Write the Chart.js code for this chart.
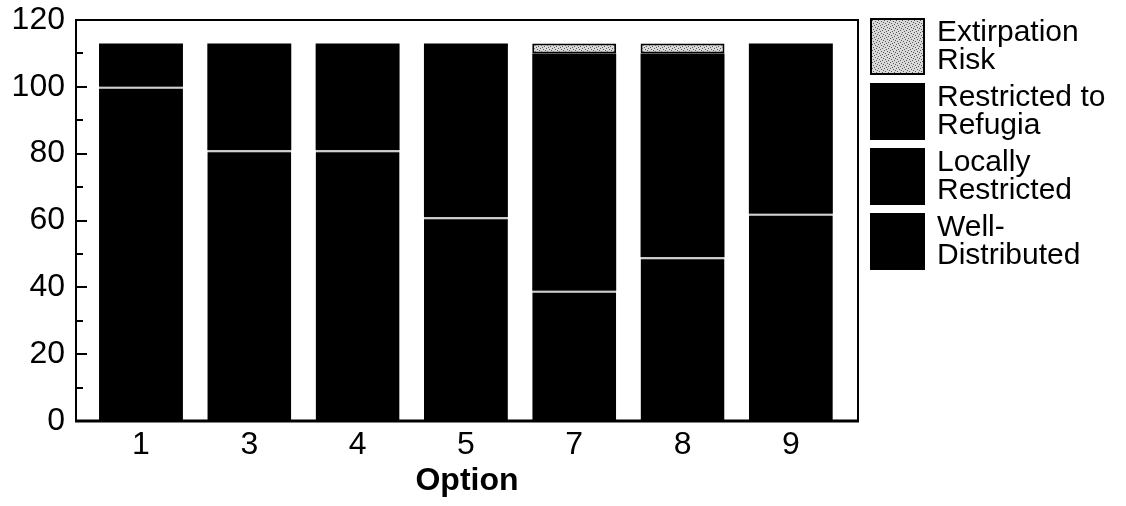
<!DOCTYPE html>
<html>
<head>
<meta charset="utf-8">
<script src="https://cdn.jsdelivr.net/npm/chart.js@4/dist/chart.umd.min.js"></script>
<style>
  html, body { margin: 0; padding: 0; background: #fff; }
  #wrap { position: relative; width: 1126px; height: 506px; }
  #chart { position: absolute; left: 0; top: 0; }
  #legend { position: absolute; left: 870px; top: 18px; width: 256px;
            font-family: 'Liberation Sans', Arial, sans-serif; font-size: 30px; color: #000; }
  .item { display: flex; align-items: flex-start; height: 65px; }
  .sw { width: 55px; height: 57px; background: #000; box-sizing: border-box; flex: none; }
  .tx { margin-left: 12px; width: 189px; line-height: 28px; margin-top: -1px; }
</style>
</head>
<body>
<div id="wrap">
  <canvas id="chart" width="1126" height="506"></canvas>
  <div id="legend"></div>
</div>
<script>
// ---- data ----
const categories = ['1', '3', '4', '5', '7', '8', '9'];
const wellDistributed     = [100, 81, 81, 61, 39, 49, 62];
const locallyRestricted   = [13, 32, 32, 52, 71, 61, 51];
const restrictedToRefugia = [0, 0, 0, 0, 0, 0, 0];
const extirpationRisk     = [0, 0, 0, 0, 3, 3, 0];
const yTickValues = [0, 20, 40, 60, 80, 100, 120];
const seriesLabels = ['Well-Distributed', 'Locally Restricted', 'Restricted to Refugia', 'Extirpation Risk'];

// stipple pattern for Extirpation Risk
const pc = document.createElement('canvas');
pc.width = 6; pc.height = 6;
const pctx = pc.getContext('2d');
pctx.fillStyle = '#d9d9d9'; pctx.fillRect(0, 0, 6, 6);
pctx.fillStyle = '#5a5a5a';
[[0,0],[3,1],[1,3],[4,4],[5,2],[2,5]].forEach(([a, b]) => pctx.fillRect(a, b, 1, 1));
const stipple = pctx.createPattern(pc, 'repeat');

const toPts = arr => arr.map((v, i) => ({ x: i + 1, y: v }));
const FONT = "'Liberation Sans', Arial, sans-serif";

const datasets = [
  { label: seriesLabels[0], data: toPts(wellDistributed), backgroundColor: '#000',
    borderColor: '#cfcfcf', borderWidth: { top: 2, left: 0, right: 0, bottom: 0 }, borderSkipped: false },
  { label: seriesLabels[1], data: toPts(locallyRestricted), backgroundColor: '#000', borderWidth: 0 },
  { label: seriesLabels[2], data: toPts(restrictedToRefugia), backgroundColor: '#000', borderWidth: 0 },
  { label: seriesLabels[3], data: toPts(extirpationRisk), backgroundColor: stipple,
    borderColor: '#000', borderWidth: 2, borderSkipped: false }
];

const framePlugin = {
  id: 'frame',
  afterDatasetsDraw(chart) {
    const { ctx, chartArea: a, scales: { y } } = chart;
    ctx.save();
    ctx.strokeStyle = '#000';
    ctx.lineWidth = 2;
    ctx.strokeRect(a.left, a.top, a.right - a.left, a.bottom - a.top);
    ctx.lineWidth = 3;
    ctx.beginPath(); ctx.moveTo(a.left - 1, a.bottom); ctx.lineTo(a.right + 1, a.bottom); ctx.stroke();
    ctx.lineWidth = 2;
    for (let v = 0; v <= 120; v += 10) {
      const py = Math.round(y.getPixelForValue(v));
      const len = v % 20 === 0 ? 11 : 7;
      ctx.beginPath(); ctx.moveTo(a.left, py); ctx.lineTo(a.left + len, py); ctx.stroke();
    }
    ctx.restore();
  }
};

new Chart(document.getElementById('chart'), {
  type: 'bar',
  data: { datasets },
  options: {
    responsive: false,
    animation: false,
    layout: { padding: { top: 20, right: 268, left: 0, bottom: 0 } },
    datasets: { bar: { barPercentage: 0.775, categoryPercentage: 1 } },
    plugins: { legend: { display: false }, tooltip: { enabled: false } },
    scales: {
      x: {
        type: 'linear', min: 0.4, max: 7.62, stacked: true, offset: false,
        afterBuildTicks: s => { s.ticks = categories.map((c, i) => ({ value: i + 1 })); },
        afterFit: s => { s.height = 85; s.paddingLeft = 0; s.paddingRight = 0; },
        grid: { display: false, drawTicks: false, offset: false },
        border: { display: false },
        ticks: { padding: 5, maxRotation: 0, autoSkip: false, color: '#000',
                 font: { family: FONT, size: 32 },
                 callback: v => categories[Math.round(v) - 1] },
        title: { display: true, text: 'Option', color: '#000',
                 font: { family: FONT, size: 32, weight: 'bold' },
                 padding: { top: 0, bottom: 6 } }
      },
      y: {
        min: 0, max: 120, stacked: true,
        afterBuildTicks: s => { s.ticks = yTickValues.map(v => ({ value: v })); },
        afterFit: s => { s.width = 76; s.paddingTop = 0; s.paddingBottom = 0; },
        grid: { display: false, drawTicks: false },
        border: { display: false },
        ticks: { padding: 11, color: '#000', font: { family: FONT, size: 32 } }
      }
    }
  },
  plugins: [framePlugin]
});

// HTML legend (top entry = top of stack)
const legend = document.getElementById('legend');
[...datasets].reverse().forEach(ds => {
  const item = document.createElement('div'); item.className = 'item';
  const sw = document.createElement('div'); sw.className = 'sw';
  if (ds.label === 'Extirpation Risk') {
    sw.style.background = 'url(' + pc.toDataURL() + ')';
    sw.style.border = '2px solid #000';
  }
  const tx = document.createElement('div'); tx.className = 'tx'; tx.textContent = ds.label;
  item.appendChild(sw); item.appendChild(tx); legend.appendChild(item);
});
</script>
</body>
</html>
